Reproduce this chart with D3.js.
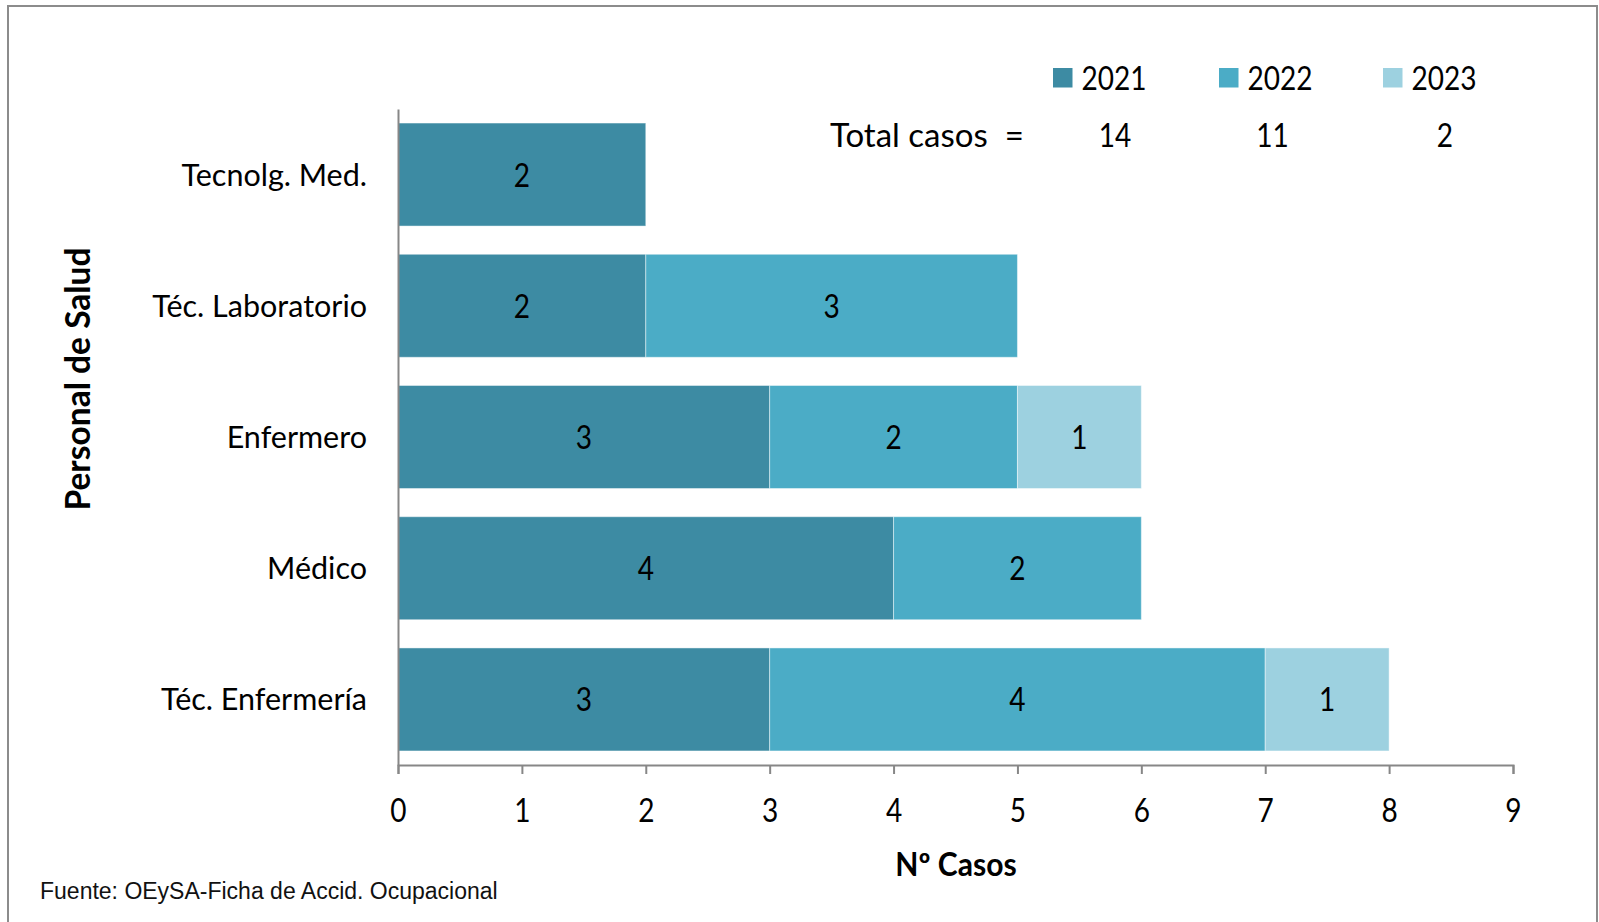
<!DOCTYPE html>
<html><head><meta charset="utf-8">
<script src="https://cdn.jsdelivr.net/npm/d3@7"></script>
<style>body{margin:0;background:#fff;} svg{display:block;}</style>
</head><body>
<svg id="chart" width="1599" height="922"></svg>
<script>
// ---- data ----
const categories = ["Tecnolg. Med.", "Téc. Laboratorio", "Enfermero", "Médico", "Téc. Enfermería"];
const years = ["2021", "2022", "2023"];
const values2021 = [2, 2, 3, 4, 3];
const values2022 = [0, 3, 2, 2, 4];
const values2023 = [0, 0, 1, 0, 1];
const totals = [14, 11, 2];
const xTicks = [0, 1, 2, 3, 4, 5, 6, 7, 8, 9];
const colors = ["#3D8BA3", "#4BACC6", "#9DD1E0"];

const rows = categories.map((c, i) => ({cat: c, "2021": values2021[i], "2022": values2022[i], "2023": values2023[i]}));

const svg = d3.select("#chart");
const FONT = "Lato, 'Open Sans', sans-serif";
const DIGIT_SX = 0.85; // narrower digits, like the original font

// outer border
svg.append("path").attr("d", "M8,923 L8,6 L1597,6 L1597,923")
  .attr("fill", "none").attr("stroke", "#8c8c8c").attr("stroke-width", 2);

const x = d3.scaleLinear().domain([0, 9]).range([398, 1513]);
const y = d3.scaleBand().domain(categories).range([109, 765]).paddingInner(0.215).paddingOuter(0.107);

const series = d3.stack().keys(years)(rows);

const g = svg.append("g");
series.forEach((s, si) => {
  const segs = s.filter(d => d[1] - d[0] > 0);
  g.selectAll(null).data(segs).join("rect")
    .attr("x", d => x(d[0]))
    .attr("y", d => y(d.data.cat))
    .attr("width", d => x(d[1]) - x(d[0]))
    .attr("height", y.bandwidth())
    .attr("fill", colors[si])
    .attr("stroke", "rgba(255,255,255,0.45)").attr("stroke-width", 1);
  g.selectAll(null).data(segs).join("text")
    .attr("transform", d => `translate(${(x(d[0]) + x(d[1])) / 2},${y(d.data.cat) + y.bandwidth() / 2 + 12}) scale(${DIGIT_SX},1)`)
    .attr("text-anchor", "middle")
    .attr("font-family", FONT).attr("font-size", 33).attr("fill", "#000")
    .text(d => d[1] - d[0]);
});

// x axis
const xAxis = d3.axisBottom(x).tickValues(xTicks).tickSize(9).tickPadding(0).tickFormat(d3.format("d"));
const xa = svg.append("g").attr("transform", "translate(0,765)").call(xAxis);
xa.select(".domain").attr("stroke", "#878787").attr("stroke-width", 2);
xa.selectAll(".tick line").attr("stroke", "#878787").attr("stroke-width", 2);
xa.selectAll(".tick text").attr("font-family", FONT).attr("font-size", 33).attr("fill", "#000")
  .attr("dy", null).attr("y", null).attr("transform", `translate(0,57) scale(${DIGIT_SX},1)`);

// y axis
const yAxis = d3.axisLeft(y).tickSize(0).tickPadding(31);
const ya = svg.append("g").attr("transform", "translate(398,0)").call(yAxis);
ya.select(".domain").attr("stroke", "#878787").attr("stroke-width", 2);
ya.selectAll(".tick text").attr("font-family", FONT).attr("font-size", 30.5).attr("fill", "#000")
  .attr("dy", null).attr("y", 11);

// axis titles
svg.append("text").attr("x", 938).attr("y", 876).attr("text-anchor", "middle")
  .attr("transform", "translate(956,0) scale(0.94,1) translate(-938,0)")
  .attr("font-family", FONT).attr("font-weight", "bold").attr("font-size", 32).text("Nº Casos");
svg.append("text").attr("transform", "translate(90,379) rotate(-90)").attr("text-anchor", "middle")
  .attr("font-family", FONT).attr("font-weight", "bold").attr("font-size", 33.5).text("Personal de Salud");

// legend
const legX = [1053, 1219, 1383];
years.forEach((yr, i) => {
  svg.append("rect").attr("x", legX[i]).attr("y", 68).attr("width", 19.5).attr("height", 19.5).attr("fill", colors[i]);
  svg.append("text").attr("transform", `translate(${legX[i] + 28.5},89.5) scale(${DIGIT_SX},1)`)
    .attr("font-family", FONT).attr("font-size", 33).attr("fill", "#000").text(yr);
});
svg.append("text").attr("x", 830).attr("y", 147).attr("font-family", FONT).attr("font-size", 33)
  .attr("xml:space", "preserve").text("Total casos  =");
const totX = [1115, 1272.5, 1445];
totals.forEach((t, i) => {
  svg.append("text").attr("transform", `translate(${totX[i]},147) scale(${DIGIT_SX},1)`).attr("text-anchor", "middle")
    .attr("font-family", FONT).attr("font-size", 33).text(t);
});

// source
svg.append("text").attr("x", 40).attr("y", 899)
  .attr("font-family", "'Liberation Sans', Arial, sans-serif").attr("font-size", 23).attr("fill", "#111")
  .text("Fuente: OEySA-Ficha de Accid. Ocupacional");
</script>
</body></html>
